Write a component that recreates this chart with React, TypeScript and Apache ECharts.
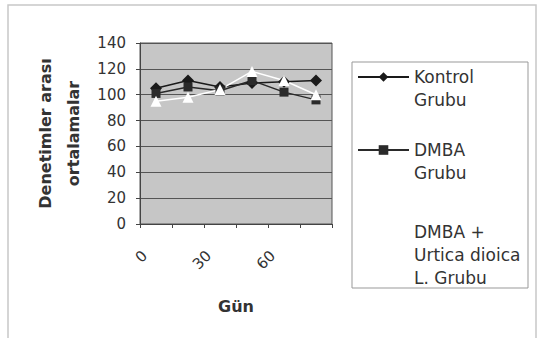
import React, { useEffect, useRef } from "react";
import * as echarts from "echarts";

// Observation days (category axis)
const days = ["0", "15", "30", "45", "60", "75"];

// Mean values between inspections for each group
const kontrol = [105, 111, 106, 109, 110, 111];
const dmba = [101, 106, 103, 111, 102, 96];
const dmbaUrtica = [95, 98, 104, 118, 111, 100];

const seriesNames = ["Kontrol Grubu", "DMBA Grubu", "DMBA + Urtica dioica L. Grubu"];
// A leading blank line keeps the legend marker level with the first text line
const legendLabels = ["\nKontrol\nGrubu", "\nDMBA\nGrubu", "DMBA +\nUrtica dioica\nL. Grubu"];

const yMin = 0;
const yMax = 140;
const yStep = 20;

const FONT = "DejaVu Sans";
const TEXT = "#333";

export default function App() {
  const ref = useRef<HTMLDivElement>(null);

  useEffect(() => {
    if (!ref.current) return;
    const chart = echarts.init(ref.current, undefined, { renderer: "svg" });

    const legendTops = [42.5, 115.5, 220.5];

    chart.setOption({
      animation: false,
      backgroundColor: "#ffffff",
      grid: {
        left: 140,
        right: 211,
        top: 43,
        bottom: 114,
        show: true,
        backgroundColor: "#c6c6c6",
        borderColor: "#555",
        borderWidth: 1,
      },
      graphic: [
        {
          type: "rect",
          shape: { x: 8, y: 5, width: 528, height: 345 },
          style: { fill: "none", stroke: "#c8c8c8", lineWidth: 1.5 },
          silent: true,
        },
        {
          type: "rect",
          shape: { x: 352, y: 62, width: 176, height: 226 },
          style: { fill: "#ffffff", stroke: "#999", lineWidth: 1 },
          silent: true,
        },
      ],
      legend: seriesNames.map((n, i) => ({
        data: [n],
        left: 357,
        top: legendTops[i],
        orient: "vertical",
        padding: 0,
        itemGap: 0,
        itemWidth: 51,
        itemHeight: 12,
        selectedMode: false,
        formatter: () => legendLabels[i],
        textStyle: {
          fontFamily: FONT,
          fontSize: 17,
          lineHeight: 23,
          color: TEXT,
        },
      })),
      xAxis: {
        type: "category",
        data: days,
        boundaryGap: true,
        axisLine: { show: true, lineStyle: { color: "#444", width: 1 } },
        axisTick: { show: true, length: 4, interval: 0, lineStyle: { color: "#444" } },
        axisLabel: {
          interval: 1,
          rotate: 45,
          margin: 18,
          padding: [0, 16, 0, 0],
          fontFamily: FONT,
          fontSize: 15,
          color: TEXT,
        },
        name: "Gün",
        nameLocation: "middle",
        nameGap: 74,
        nameTextStyle: { fontFamily: FONT, fontSize: 16, fontWeight: "bold", color: TEXT },
      },
      yAxis: {
        type: "value",
        min: yMin,
        max: yMax,
        interval: yStep,
        axisLine: { show: true, lineStyle: { color: "#444", width: 1 } },
        axisTick: { show: true, length: 4, lineStyle: { color: "#444" } },
        splitLine: { show: true, lineStyle: { color: "#555", width: 1 } },
        axisLabel: { margin: 14, fontFamily: FONT, fontSize: 15, color: TEXT },
        name: "Denetimler arası\nortalamalar",
        nameLocation: "middle",
        nameGap: 53,
        nameTextStyle: {
          fontFamily: FONT,
          fontSize: 16,
          fontWeight: "bold",
          lineHeight: 28,
          color: TEXT,
          align: "center",
        },
      },
      series: [
        {
          name: seriesNames[0],
          type: "line",
          data: kontrol,
          symbol: "diamond",
          symbolSize: 12,
          lineStyle: { color: "#1a1a1a", width: 1.5 },
          itemStyle: { color: "#1a1a1a" },
        },
        {
          name: seriesNames[1],
          type: "line",
          data: dmba,
          symbol: "rect",
          symbolSize: 9,
          lineStyle: { color: "#2a2a2a", width: 1.5 },
          itemStyle: { color: "#2a2a2a" },
        },
        {
          name: seriesNames[2],
          type: "line",
          data: dmbaUrtica,
          symbol: "triangle",
          symbolSize: 11,
          lineStyle: { color: "#ffffff", width: 1.5 },
          itemStyle: { color: "#ffffff" },
        },
      ],
    });

    return () => chart.dispose();
  }, []);

  return (
    <div
      ref={ref}
      style={{ position: "absolute", left: 0, top: 0, width: 543, height: 338, background: "#fff" }}
    />
  );
}
